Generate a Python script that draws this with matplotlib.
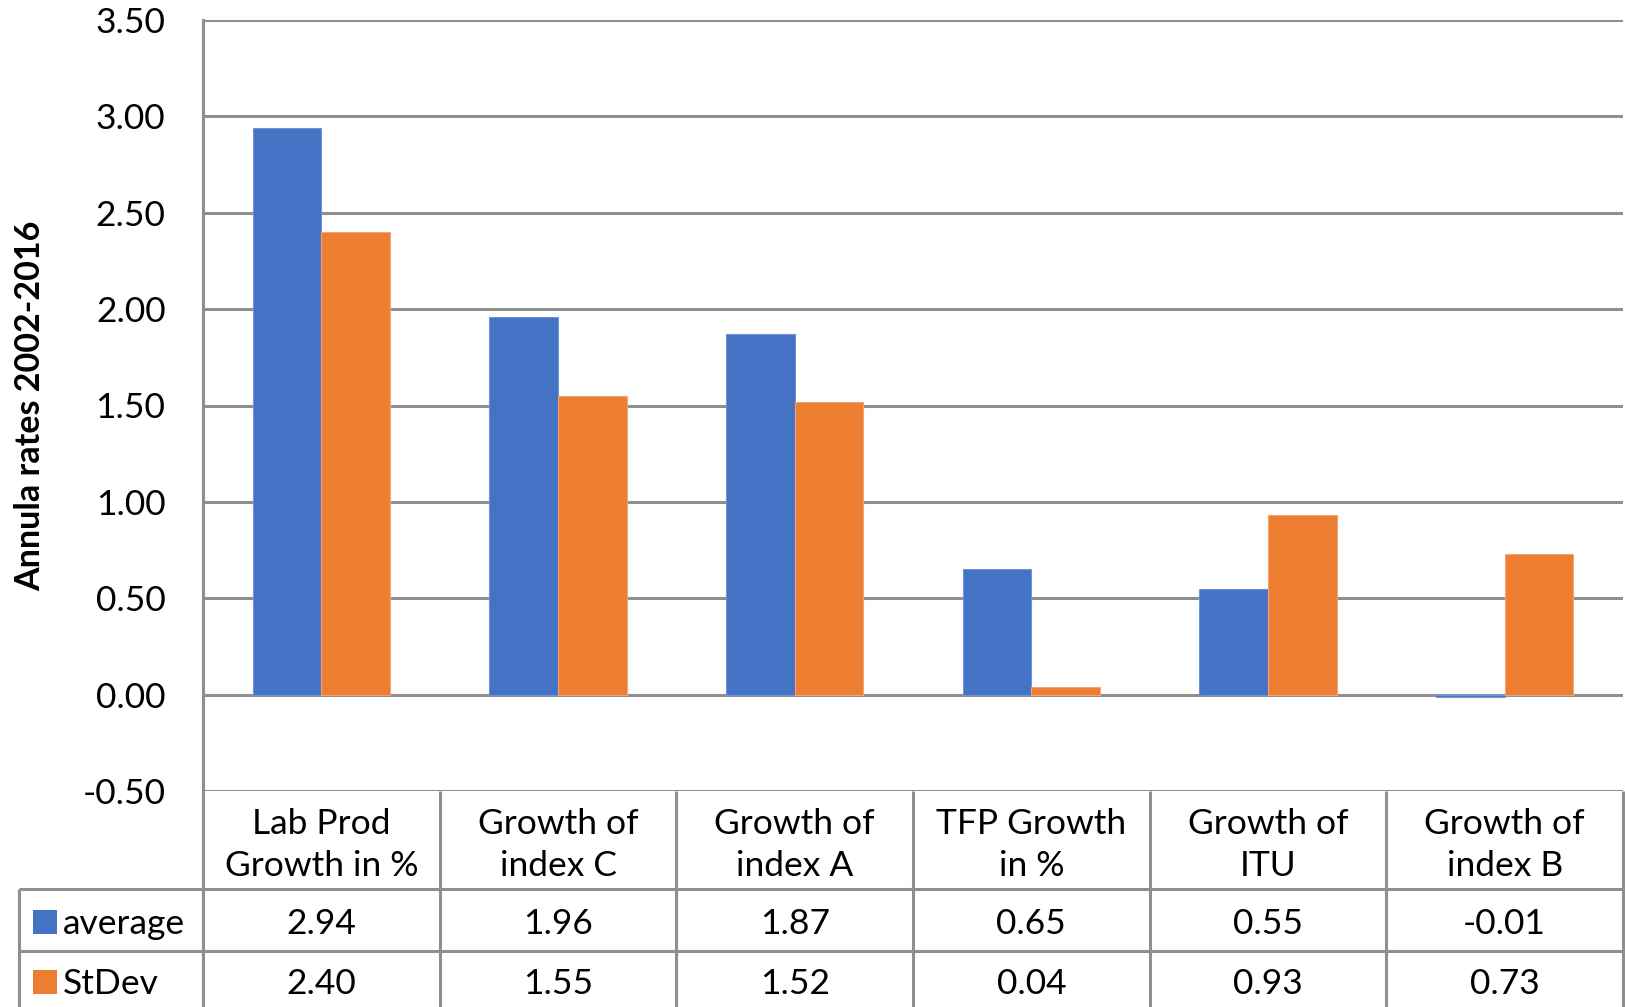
import matplotlib
matplotlib.use("Agg")
import matplotlib.pyplot as plt
import numpy as np
from matplotlib.patches import Rectangle
from matplotlib.transforms import blended_transform_factory

plt.rcParams['font.family'] = ['Lato', 'DejaVu Sans']

categories = ["Lab Prod\nGrowth in %", "Growth of\nindex C", "Growth of\nindex A",
              "TFP Growth\nin %", "Growth of\nITU", "Growth of\nindex B"]
average = [2.94, 1.96, 1.87, 0.65, 0.55, -0.01]
stdev = [2.40, 1.55, 1.52, 0.04, 0.93, 0.73]
series_names = ["average", "StDev"]
y_ticks = [-0.5, 0.0, 0.5, 1.0, 1.5, 2.0, 2.5, 3.0, 3.5]
y_label = "Annula rates 2002-2016"

BLUE = "#4472C4"
ORANGE = "#ED7D31"
GRID = "#8f8f8f"
FS = 25.5

W, H = 1625, 1007
fig = plt.figure(figsize=(W / 100, H / 100), dpi=100)
ax_left, ax_right = 203 / W, 1623 / W
ax_top, ax_bot = 1 - 20 / H, 1 - 791 / H
ax = fig.add_axes([ax_left, ax_bot, ax_right - ax_left, ax_top - ax_bot])
ax_w_px = 1623 - 203
ax_h_px = 791 - 20

n = len(categories)
x = np.arange(n)
bw = 0.29
ax.bar(x - bw / 2, average, bw, color=BLUE, edgecolor="#6f93d6", linewidth=0.8, zorder=3)
ax.bar(x + bw / 2, stdev, bw, color=ORANGE, edgecolor="#f4a574", linewidth=0.8, zorder=3)

ax.set_xlim(-0.5, n - 0.5)
ax.set_ylim(y_ticks[0], y_ticks[-1])
ax.set_yticks(y_ticks)
ax.set_yticklabels([f"{v:.2f}" for v in y_ticks], fontsize=FS)
ax.tick_params(axis="y", length=0, pad=27)
ax.set_xticks([])
ax.yaxis.grid(True, color=GRID, linewidth=2.2, zorder=0)
for s in ["top", "right", "bottom"]:
    ax.spines[s].set_visible(False)
ax.spines["left"].set_color(GRID)
ax.spines["left"].set_linewidth(2.2)
ax.set_ylabel(y_label, fontsize=24.5, fontweight="bold")
ax.yaxis.set_label_coords((46 - 203) / ax_w_px, 0.5)

# data table under the plot
def fy(px):
    # pixel offset below the axes bottom -> axes fraction
    return -px / ax_h_px

trans = blended_transform_factory(ax.transData, ax.transAxes)
row_hdr_bottom = fy(889 - 791)
row1_bottom = fy(951 - 791)
row2_bottom = fy(1030 - 791)
label_left = -(203 - 19) / ax_w_px

line_kw = dict(color=GRID, linewidth=2.2, clip_on=False, solid_capstyle="butt")
# horizontal row separators
for yy in [row_hdr_bottom, row1_bottom]:
    ax.plot([label_left, 1.0], [yy, yy], transform=ax.transAxes, **line_kw)
# vertical separators between categories
for i in range(n + 1):
    xv = i - 0.5
    ax.plot([xv, xv], [0, row2_bottom], transform=trans, **line_kw)
ax.plot([label_left, label_left], [row_hdr_bottom, row2_bottom], transform=ax.transAxes, **line_kw)

# header cells
for i, cat in enumerate(categories):
    ax.text(i, fy(845 - 791), cat, transform=trans, ha="center", va="center",
            fontsize=FS, linespacing=1.42, clip_on=False)

# value rows
rows = [(average, BLUE), (stdev, ORANGE)]
row_centers = [fy(924 - 791), fy(984 - 791)]
for (vals, col), yc, name in zip(rows, row_centers, series_names):
    for i, v in enumerate(vals):
        ax.text(i, yc, f"{v:.2f}", transform=trans, ha="center", va="center",
                fontsize=FS, clip_on=False)
    # legend key square and series name
    key_x = (33 - 203) / ax_w_px
    key_w = 24 / ax_w_px
    key_h = 24 / ax_h_px
    ax.add_patch(Rectangle((key_x, yc - key_h / 2 + 2 / ax_h_px), key_w, key_h,
                           transform=ax.transAxes, facecolor=col, edgecolor="none",
                           clip_on=False))
    ax.text(key_x + key_w + 6 / ax_w_px, yc, name, transform=ax.transAxes,
            ha="left", va="center", fontsize=FS, clip_on=False)

fig.savefig("out.png", dpi=100)
